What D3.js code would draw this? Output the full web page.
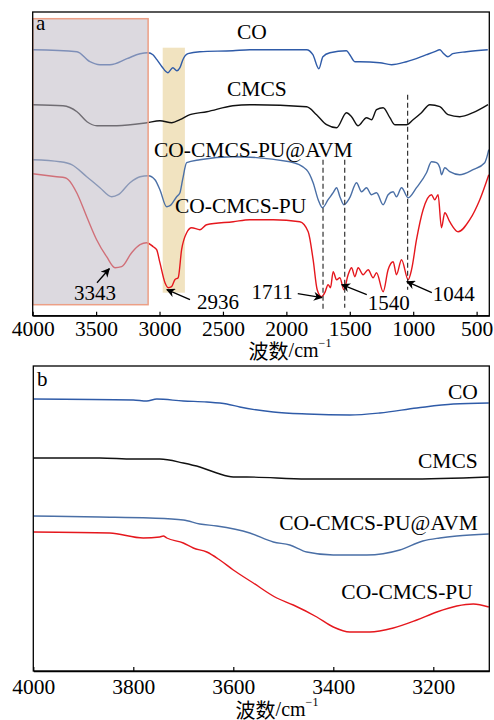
<!DOCTYPE html>
<html>
<head>
<meta charset="utf-8">
<script src="https://cdn.jsdelivr.net/npm/d3@7"></script>
<style>
  body { margin: 0; background: #fff; }
  svg { display: block; }
  text { font-family: "Liberation Serif", "Noto Sans CJK SC", serif; fill: #000; }
</style>
</head>
<body>
<svg id="chart"></svg>
<script>
// ---- data (wavenumber cm-1, transmittance a.u.) ----
const seriesNames = ["CO", "CMCS", "CO-CMCS-PU@AVM", "CO-CMCS-PU"];

const fullCO = [[4000,266],[3651,264],[3549,254],[3470,251],[3391,251],[3257,257],[3154,262],[3091,263],[3052,261],[3021,256],[2981,249],[2934,243],[2895,248],[2863,245],[2839,248],[2816,256],[2776,262],[2682,264],[2422,265],[2288,266],[1841,266],[1791,261],[1744,247],[1712,259],[1657,263],[1526,265],[1500,261],[1460,254],[1421,254],[1263,253],[1171,251],[1053,254],[895,261],[830,264],[790,266],[767,263],[727,259],[688,262],[580,264],[412,266]];
const fullCMCS = [[4000,211],[3761,210],[3651,204],[3572,194],[3493,190],[3336,190],[3099,193],[2997,195],[2903,193],[2839,196],[2760,201],[2627,204],[2422,210],[2288,211],[1841,209],[1762,201],[1683,191],[1604,188],[1526,203],[1486,199],[1434,190],[1368,198],[1329,196],[1289,206],[1237,208],[1184,198],[1145,191],[1053,191],[1001,196],[935,203],[869,211],[790,209],[725,201],[633,199],[528,203],[410,211]];
const fullAVM = [[4000,156],[3785,154],[3693,151],[3574,139],[3470,128],[3377,119],[3325,121],[3233,133],[3154,139],[3089,140],[3036,136],[2997,126],[2944,109],[2918,110],[2865,119],[2839,123],[2818,136],[2786,153],[2682,156],[2422,159],[1972,154],[1841,146],[1789,133],[1749,116],[1715,108],[1671,116],[1631,123],[1604,128],[1578,119],[1547,111],[1500,118],[1447,133],[1407,124],[1368,128],[1329,121],[1289,123],[1237,111],[1198,121],[1158,124],[1132,119],[1092,128],[1040,118],[974,128],[895,143],[856,154],[816,153],[790,148],[777,141],[751,148],[712,144],[633,141],[528,146],[436,153],[404,166]];
const fullPU = [[4000,142],[3811,139],[3745,138],[3719,136],[3653,123],[3574,99],[3496,76],[3417,59],[3351,48],[3299,49],[3220,63],[3154,71],[3102,73],[3050,69],[3023,66],[2997,53],[2957,33],[2931,28],[2905,29],[2879,36],[2853,38],[2826,66],[2786,83],[2747,88],[2682,86],[2629,91],[2419,94],[2288,96],[2104,96],[1894,94],[1828,84],[1789,56],[1757,26],[1723,19],[1697,23],[1671,31],[1652,28],[1631,44],[1604,36],[1578,38],[1547,26],[1513,41],[1486,48],[1460,39],[1434,48],[1395,41],[1355,46],[1316,38],[1289,43],[1237,24],[1198,46],[1158,54],[1132,41],[1092,56],[1040,36],[1013,46],[974,76],[922,106],[856,121],[830,116],[804,121],[777,88],[751,103],[712,94],[646,84],[554,96],[475,116],[404,141]];

const zoomCO = [[4000,272],[3800,271],[3773,270],[3753,272],[3700,270],[3653,269],[3613,267],[3587,264],[3520,259],[3453,257],[3367,256],[3307,258],[3233,263],[3160,267],[3089,268]];
const zoomCMCS = [[4000,213],[3867,213],[3800,212],[3747,212],[3700,208],[3667,204],[3633,198],[3600,194],[3573,194],[3453,192],[3253,192],[3089,194]];
const zoomAVM = [[4000,155],[3867,154],[3767,153],[3700,151],[3667,147],[3633,145],[3567,138],[3520,129],[3487,126],[3453,119],[3400,116],[3333,116],[3267,121],[3221,130],[3187,133],[3153,135],[3089,137]];
const zoomPU = [[4000,139],[3847,138],[3780,133],[3747,134],[3740,135],[3733,133],[3700,128],[3680,123],[3653,119],[3627,111],[3600,101],[3560,88],[3513,73],[3480,66],[3433,54],[3400,44],[3367,39],[3327,39],[3280,43],[3233,51],[3193,59],[3153,65],[3120,67],[3089,64]];

const fullTicks = [4000, 3500, 3000, 2500, 2000, 1500, 1000, 500];
const zoomTicks = [4000, 3800, 3600, 3400, 3200];

// highlighted bands [from, to, low, high]
const bandOH = [4000, 3090, 11, 297];
const bandCH = [2975, 2800, 23, 268];

// reference peaks: [wavenumber, top, bottom]
const peakLines = [[1711, 156, 4], [1540, 156, 8], [1044, 221, 26]];

// annotations: label, tip [wn,val], tail [wn,val], text [wn,val], anchor
const peakNotes = [
  ["3343", [3396, 47], [3493, 33], [3509, 23], "middle"],
  ["2936", [2942, 26], [2760, 16], [2704, 14], "start"],
  ["1711", [1720, 18], [1910, 22], [1950, 24], "end"],
  ["1540", [1563, 31], [1366, 21], [1192, 13], "middle"],
  ["1044", [1050, 34], [853, 23], [680, 22], "middle"]
];

// series label positions
const fullLabelPos = [[2272, 283.5, "middle"], [2233, 226.5, "middle"], [3044, 166, "start"], [2879, 109.5, "start"]];
const zoomLabelPos = [[3111, 279], [3111, 210], [3111, 148], [3121, 79]];

const colors = ["#2f5ba8", "#111111", "#4a6fa6", "#e5171d"];

// ---- drawing ----
const svg = d3.select("#chart").attr("width", 494).attr("height", 720);

const defs = svg.append("defs");
defs.append("marker")
    .attr("id", "arrow")
    .attr("viewBox", "0 0 10 10")
    .attr("refX", 9).attr("refY", 5)
    .attr("markerWidth", 11).attr("markerHeight", 9)
    .attr("markerUnits", "userSpaceOnUse")
    .attr("orient", "auto")
    .append("path")
    .attr("d", "M0,0 L10,5 L0,10 L3,5 Z")
    .attr("fill", "#000");

// top panel
const x1 = d3.scaleLinear().domain([4000, 400]).range([32.7, 489.3]);
const y1 = d3.scaleLinear().domain([0, 303.7]).range([315.7, 12]);

const gTop = svg.append("g");

gTop.append("rect")
    .attr("x", x1(bandCH[0])).attr("width", x1(bandCH[1]) - x1(bandCH[0]))
    .attr("y", y1(bandCH[3])).attr("height", y1(bandCH[2]) - y1(bandCH[3]))
    .attr("fill", "#f1e3c0");

const line1 = d3.line().x(d => x1(d[0])).y(d => y1(d[1])).curve(d3.curveMonotoneX);
[fullCO, fullCMCS, fullAVM, fullPU].forEach((s, i) => {
    gTop.append("path")
        .attr("d", line1(s))
        .attr("fill", "none")
        .attr("stroke", colors[i])
        .attr("stroke-width", 1.4);
});

// translucent band over the O-H region
gTop.append("rect")
    .attr("x", x1(bandOH[0])).attr("width", x1(bandOH[1]) - x1(bandOH[0]))
    .attr("y", y1(bandOH[3])).attr("height", y1(bandOH[2]) - y1(bandOH[3]))
    .attr("fill", "#bfb9c4").attr("fill-opacity", 0.55)
    .attr("stroke", "#ec9f86").attr("stroke-width", 1.5);

peakLines.forEach(p => {
    gTop.append("line")
        .attr("x1", x1(p[0])).attr("x2", x1(p[0]))
        .attr("y1", y1(p[1])).attr("y2", y1(p[2]))
        .attr("stroke", "#333").attr("stroke-width", 1.2)
        .attr("stroke-dasharray", "5,3");
});

peakNotes.forEach(n => {
    gTop.append("line")
        .attr("x1", x1(n[2][0])).attr("y1", y1(n[2][1]))
        .attr("x2", x1(n[1][0])).attr("y2", y1(n[1][1]))
        .attr("stroke", "#000").attr("stroke-width", 1.3)
        .attr("marker-end", "url(#arrow)");
    gTop.append("text")
        .attr("x", x1(n[3][0])).attr("y", y1(n[3][1]))
        .attr("dominant-baseline", "central")
        .attr("text-anchor", n[4])
        .style("font-size", "21px")
        .text(n[0]);
});

seriesNames.forEach((name, i) => {
    const p = fullLabelPos[i];
    gTop.append("text")
        .attr("x", x1(p[0])).attr("y", y1(p[1]))
        .attr("dominant-baseline", "central")
        .attr("text-anchor", p[2])
        .style("font-size", "21.5px")
        .text(name);
});

// bottom panel
const x2 = d3.scaleLinear().domain([4000, 3088]).range([33.3, 489.3]);
const y2 = d3.scaleLinear().domain([0, 305]).range([671, 366]);
const gBot = svg.append("g");
const line2 = d3.line().x(d => x2(d[0])).y(d => y2(d[1])).curve(d3.curveMonotoneX);
[zoomCO, zoomCMCS, zoomAVM, zoomPU].forEach((s, i) => {
    gBot.append("path")
        .attr("d", line2(s))
        .attr("fill", "none")
        .attr("stroke", colors[i])
        .attr("stroke-width", 1.4);
});
seriesNames.forEach((name, i) => {
    const p = zoomLabelPos[i];
    gBot.append("text")
        .attr("x", x2(p[0])).attr("y", y2(p[1]))
        .attr("dominant-baseline", "central")
        .attr("text-anchor", "end")
        .style("font-size", "21.5px")
        .text(name);
});

// frames + axes
function frame(g, x, y, ticks, pad) {
    const [xa, xb] = x.range();
    const [yb, ya] = y.range();
    g.append("rect")
        .attr("x", xa).attr("y", ya)
        .attr("width", xb - xa).attr("height", yb - ya)
        .attr("fill", "none").attr("stroke", "#000").attr("stroke-width", 1.3);
    const ax = g.append("g")
        .attr("transform", `translate(0,${yb})`)
        .call(d3.axisBottom(x).tickValues(ticks).tickSizeInner(-4).tickSizeOuter(0).tickPadding(pad).tickFormat(d3.format("d")));
    ax.select(".domain").attr("stroke-width", 1.3);
    ax.selectAll(".tick line").attr("stroke-width", 1.2);
    ax.selectAll(".tick text")
        .style("font-family", "Liberation Serif, serif")
        .style("font-size", "21.5px");
}
frame(gTop, x1, y1, fullTicks, 5);
frame(gBot, x2, y2, zoomTicks, 8);

function axisTitle(cx, cy) {
    const t = svg.append("text")
        .attr("x", cx).attr("y", cy)
        .attr("text-anchor", "middle")
        .attr("dominant-baseline", "central")
        .style("font-size", "20px");
    t.append("tspan").style("font-family", "Noto Sans CJK SC").text("波数");
    t.append("tspan").text("/cm");
    t.append("tspan").attr("dy", -7).style("font-size", "12px").text("−1");
}
axisTitle(290, 350);
axisTitle(277, 709);

svg.append("text").attr("x", 36).attr("y", 30).style("font-size", "21px").text("a");
svg.append("text").attr("x", 37).attr("y", 386).style("font-size", "21px").text("b");
</script>
</body>
</html>
